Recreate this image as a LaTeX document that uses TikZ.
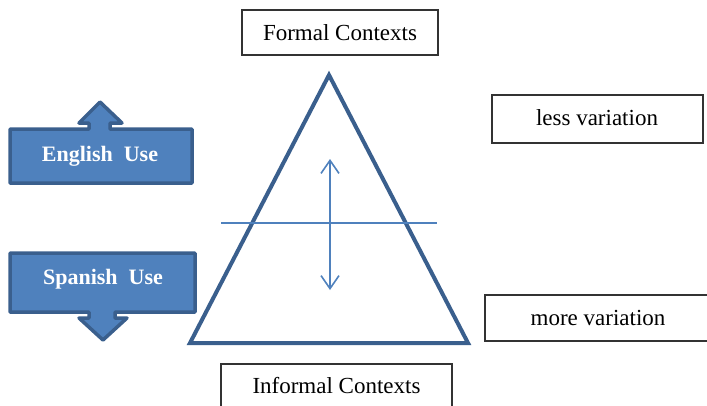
\documentclass[tikz,border=0pt]{standalone}
\usepackage{fontspec}
\setmainfont{Liberation Serif}
\usetikzlibrary{arrows.meta}
\definecolor{obl}{HTML}{4F81BD}
\definecolor{dbl}{HTML}{3A5F8D}
\begin{document}
\begin{tikzpicture}[x=1pt,y=-1pt,
  labelbox/.style={draw=black!80,line width=1.3pt,fill=white},
  lbl/.style={font=\fontsize{23}{27}\selectfont,inner sep=0pt},
  wlbl/.style={font=\fontsize{22}{26}\selectfont\bfseries,text=white,inner sep=0pt},
  bluearrow/.style={fill=obl,draw=dbl,line width=3.5pt,line join=round},
  tri/.style={draw=dbl,line width=4pt,line join=miter},
  inner/.style={draw=obl,line width=1.6pt}]
\useasboundingbox (0,0) rectangle (707,405);
% label boxes
\draw[labelbox] (242,10) rectangle (438,55);
\node[lbl] (formal) at (340,32.5) {Formal Contexts};
\draw[labelbox] (221,364) rectangle (452,412);
\node[lbl] (informal) at (336.5,386) {Informal Contexts};
\draw[labelbox] (492,95) rectangle (703,143);
\node[lbl] (less) at (597,118) {less variation};
\draw[labelbox] (485,295) rectangle (709,341);
\node[lbl] (more) at (598,318) {more variation};
% blue arrow boxes
\draw[bluearrow] (10,129) -- (89,129) -- (89,123) -- (79,123) -- (100,102) -- (122,123) -- (110,123) -- (110,129) -- (192,129) -- (192,183) -- (10,183) -- cycle;
\node[wlbl] (english) at (100,156) {English\ \ Use};
\draw[bluearrow] (10,253) -- (195,253) -- (195,312) -- (115,312) -- (115,318) -- (127,318) -- (103,340) -- (79,318) -- (89,318) -- (89,312) -- (10,312) -- cycle;
\node[wlbl] (spanish) at (103,279) {Spanish\ \ Use};
% triangle
\coordinate (apex) at (329,75);
\coordinate (bl) at (190,343);
\coordinate (br) at (468,343);
\draw[tri] (apex) -- (br) -- (bl) -- cycle;
% inner lines
\coordinate (hl) at (221,223);
\coordinate (hr) at (437,223);
\draw[inner] (hl) -- (hr);
\coordinate (vt) at (330,159);
\coordinate (vb) at (330,290);
\draw[inner,{Straight Barb[length=13pt,width=18pt]}-{Straight Barb[length=13pt,width=18pt]}] (vt) -- (vb);
\end{tikzpicture}
\end{document}
